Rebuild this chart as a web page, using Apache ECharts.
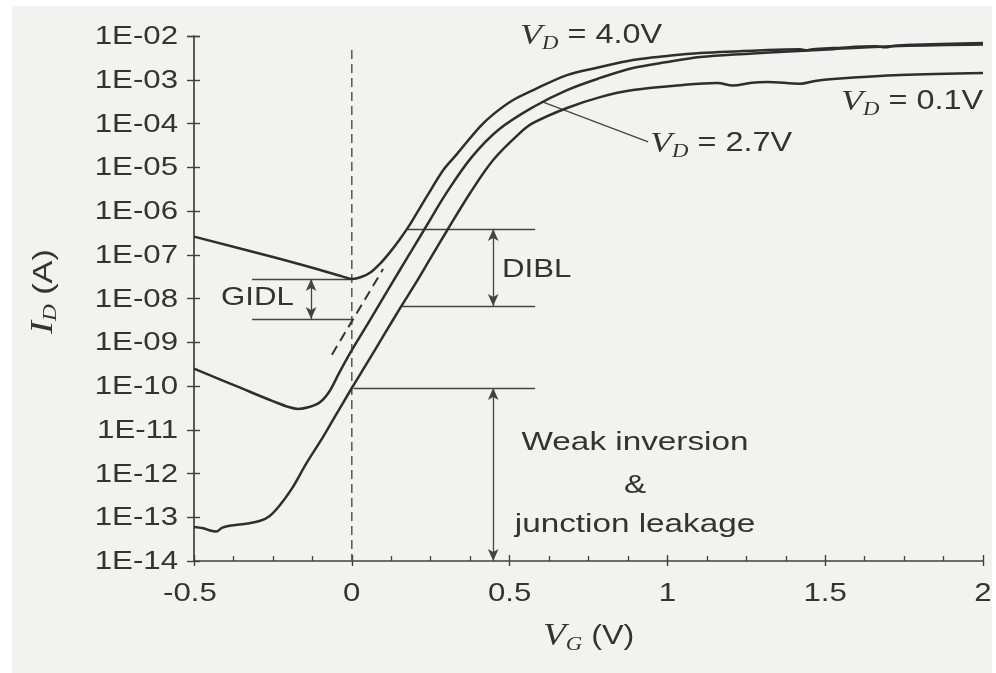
<!DOCTYPE html>
<html>
<head>
<meta charset="utf-8">
<script src="https://cdn.jsdelivr.net/npm/echarts@6/dist/echarts.min.js"></script>
<style>
html,body{margin:0;padding:0;background:#ffffff;}
#chart{width:996px;height:673px;}
</style>
</head>
<body>
<div id="chart"></div>
<script>
// ---------------- data ----------------
const yTickValues = [1e-14, 1e-13, 1e-12, 1e-11, 1e-10, 1e-9, 1e-8, 1e-7, 1e-6, 1e-5, 1e-4, 1e-3, 1e-2];
const yTickLabels = ['1E-14','1E-13','1E-12','1E-11','1E-10','1E-09','1E-08','1E-07','1E-06','1E-05','1E-04','1E-03','1E-02'];
const xTickValues = [-0.5, 0, 0.5, 1, 1.5, 2];
const xTickLabels = ['-0.5','0','0.5','1','1.5','2'];

// V_D = 4.0 V
const vg40 = [-0.5, -0.25, -0.1, -0.03, 0.0, 0.03, 0.06, 0.09, 0.12, 0.15, 0.185, 0.215, 0.25, 0.29, 0.333, 0.405, 0.45, 0.51, 0.575, 0.682, 0.787, 0.891, 1.0, 1.104, 1.316, 1.42, 1.44, 1.46, 1.525, 1.66, 1.69, 1.72, 1.78, 2.0];
const id40 = [2.6e-7, 8.9e-8, 4.5e-8, 3.2e-8, 2.8e-8, 3.1e-8, 4.0e-8, 6.3e-8, 1.12e-7, 2.14e-7, 5.0e-7, 1.15e-6, 3.0e-6, 8.7e-6, 2.0e-5, 8.3e-5, 1.66e-4, 3.4e-4, 5.8e-4, 1.28e-3, 1.95e-3, 2.83e-3, 3.5e-3, 4.08e-3, 4.79e-3, 5.0e-3, 4.7e-3, 5.0e-3, 5.3e-3, 5.8e-3, 5.5e-3, 6.0e-3, 6.3e-3, 6.9e-3];

// V_D = 2.7 V
const vg27 = [-0.5, -0.35, -0.25, -0.2, -0.17, -0.135, -0.1, -0.07, -0.04, 0.0, 0.05, 0.1, 0.15, 0.2, 0.25, 0.30, 0.38, 0.465, 0.575, 0.682, 0.787, 0.891, 1.0, 1.104, 1.246, 1.40, 1.525, 1.738, 2.0];
const id27 = [2.5e-10, 8.9e-11, 4.5e-11, 3.3e-11, 3.0e-11, 3.3e-11, 4.3e-11, 7.7e-11, 2.0e-10, 6.6e-10, 2.6e-9, 1.05e-8, 4.2e-8, 1.66e-7, 6.6e-7, 2.6e-6, 1.7e-5, 7.2e-5, 2.38e-4, 5.8e-4, 1.1e-3, 1.86e-3, 2.55e-3, 3.3e-3, 3.9e-3, 4.5e-3, 5.0e-3, 5.9e-3, 6.4e-3];

// V_D = 0.1 V
const vg01 = [-0.5, -0.47, -0.45, -0.43, -0.41, -0.38, -0.33, -0.29, -0.26, -0.23, -0.19, -0.144, -0.1, -0.06, 0.0, 0.05, 0.1, 0.156, 0.2, 0.25, 0.3, 0.375, 0.448, 0.533, 0.575, 0.682, 0.787, 0.891, 1.05, 1.158, 1.208, 1.262, 1.316, 1.421, 1.468, 1.525, 1.738, 2.0];
const id01 = [6.0e-14, 5.6e-14, 5.0e-14, 4.7e-14, 5.8e-14, 6.5e-14, 7.2e-14, 8.3e-14, 1.07e-13, 1.8e-13, 4.5e-13, 1.7e-12, 5.4e-12, 1.66e-11, 9.0e-11, 3.5e-10, 1.4e-9, 6.5e-9, 2.1e-8, 8.5e-8, 3.4e-7, 2.58e-6, 1.47e-5, 6.1e-5, 1.03e-4, 2.26e-4, 4.0e-4, 5.8e-4, 7.6e-4, 8.4e-4, 7.4e-4, 8.4e-4, 8.9e-4, 8.1e-4, 9.4e-4, 1.04e-3, 1.28e-3, 1.43e-3];

// dashed extrapolation of the V_D = 4.0 V subthreshold line
const vgExtrap = [-0.063, 0.099];
const idExtrap = [5.2e-10, 4.7e-8];

// vertical dashed reference at V_G = 0
const vgZero = [0, 0];
const idZero = [4.8e-3, 1e-14];

// annotation levels
const gidlLevels = [2.8e-8, 3.4e-9];
const gidlSpan = [-0.316, 0.0];
const gidlArrowV = -0.129;
const diblLevels = [3.9e-7, 6.7e-9];
const diblStart = [0.176, 0.159];
const annotEnd = 0.581;
const arrowV = 0.448;
const weakLevels = [9.0e-11, 1e-14];
const weakStart = 0.006;
const leader27 = [[0.600, 3.2e-4], [0.939, 3.8e-5]];

// ---------------- chart ----------------
const ink = '#333333';
const axisC = '#404040';
const SANS = "'Liberation Sans', Arial, Helvetica, sans-serif";
const SERIF = "'Liberation Serif', 'Times New Roman', serif";
const STRETCH = 1.2;

const pts = (xs, ys) => xs.map((x, i) => [x, ys[i]]);

const curve = (name, xs, ys) => ({
  type: 'line', name, data: pts(xs, ys), xAxisIndex: 0, yAxisIndex: 0,
  showSymbol: false, symbol: 'none', smooth: 0.35,
  lineStyle: { color: '#2e2e2e', width: 2.5 }, z: 5, silent: true, animation: false
});

const thin = { color: '#444444', width: 1.3, type: 'solid' };
const seg = (a, b, style, arrows) => [
  { coord: a, lineStyle: style, symbol: arrows ? 'arrow' : 'none' },
  { coord: b, symbol: arrows ? 'arrow' : 'none' }
];

const markLines = [
  seg([gidlSpan[0], gidlLevels[0]], [gidlSpan[1], gidlLevels[0]], thin),
  seg([gidlSpan[0], gidlLevels[1]], [gidlSpan[1], gidlLevels[1]], thin),
  seg([gidlArrowV, gidlLevels[0]], [gidlArrowV, gidlLevels[1]], thin, true),
  seg([diblStart[0], diblLevels[0]], [annotEnd, diblLevels[0]], thin),
  seg([diblStart[1], diblLevels[1]], [annotEnd, diblLevels[1]], thin),
  seg([arrowV, diblLevels[0]], [arrowV, diblLevels[1]], thin, true),
  seg([weakStart, weakLevels[0]], [annotEnd, weakLevels[0]], thin),
  seg([arrowV, weakLevels[0]], [arrowV, weakLevels[1]], thin, true),
  seg(leader27[0], leader27[1], thin)
];

const gridRect = { left: 194, right: 13, top: 36, bottom: 112 };

function vdLabel(x, y, value) {
  return {
    type: 'text', x: x, y: y, scaleX: STRETCH, z: 20,
    style: {
      text: '{v|V}{s|D}{n| = ' + value + '}',
      align: 'left', textAlign: 'left', verticalAlign: 'middle', textVerticalAlign: 'middle',
      rich: {
        v: { fontFamily: SERIF, fontStyle: 'italic', fontSize: 30, fill: ink, lineHeight: 34 },
        s: { fontFamily: SERIF, fontStyle: 'italic', fontSize: 19, fill: ink, lineHeight: 12, verticalAlign: 'bottom' },
        n: { fontFamily: SANS, fontSize: 27, fill: ink, lineHeight: 34 }
      }
    }
  };
}
function plain(x, y, text, size, align, sx) {
  return {
    type: 'text', x: x, y: y, scaleX: sx || STRETCH, z: 20,
    style: {
      text: text, fontFamily: SANS, fontSize: size, fill: ink,
      align: align || 'left', textAlign: align || 'left', verticalAlign: 'middle', textVerticalAlign: 'middle'
    }
  };
}

const baseGraphic = [
  { type: 'rect', z: -10, silent: true, shape: { x: 12, y: 6, width: 980, height: 667 }, style: { fill: '#f2f2f0' } },
  vdLabel(520, 36, '4.0V'),
  vdLabel(650, 144, '2.7V'),
  vdLabel(841, 102, '0.1V'),
  plain(502, 270, 'DIBL', 26),
  plain(221, 298, 'GIDL', 26),
  plain(635, 443, 'Weak inversion', 26, 'center', 1.28),
  plain(635, 486, '&', 26, 'center', 1.28),
  plain(635, 525, 'junction leakage', 26, 'center', 1.28),
  {
    type: 'text', x: 543, y: 637, scaleX: STRETCH, z: 20,
    style: {
      text: '{v|V}{s|G}{n| (V)}',
      align: 'left', textAlign: 'left', verticalAlign: 'middle', textVerticalAlign: 'middle',
      rich: {
        v: { fontFamily: SERIF, fontStyle: 'italic', fontSize: 31, fill: ink, lineHeight: 34 },
        s: { fontFamily: SERIF, fontStyle: 'italic', fontSize: 19, fill: ink, lineHeight: 12, verticalAlign: 'bottom' },
        n: { fontFamily: SANS, fontSize: 27, fill: ink, lineHeight: 34 }
      }
    }
  },
  {
    type: 'text', x: 44, y: 334, rotation: Math.PI / 2, scaleX: 1.22, z: 20,
    style: {
      text: '{v|I}{s|D}{n| (A)}',
      align: 'left', textAlign: 'left', verticalAlign: 'middle', textVerticalAlign: 'middle',
      rich: {
        v: { fontFamily: SERIF, fontStyle: 'italic', fontSize: 32, fill: ink, lineHeight: 32 },
        s: { fontFamily: SERIF, fontStyle: 'italic', fontSize: 19, fill: ink, lineHeight: 10, verticalAlign: 'bottom' },
        n: { fontFamily: SANS, fontSize: 28, fill: ink, lineHeight: 32 }
      }
    }
  }
];

const option = {
  backgroundColor: '#ffffff',
  animation: false,
  grid: [
    Object.assign({ containLabel: false }, gridRect),
    Object.assign({ containLabel: false }, gridRect)
  ],
  xAxis: [
    {
      type: 'value', gridIndex: 0, min: -0.5, max: 2, interval: 0.5,
      axisLine: { show: true, onZero: false, lineStyle: { color: axisC, width: 1.7 } },
      axisTick: { show: true, length: 5, lineStyle: { color: axisC, width: 1.4 } },
      axisLabel: { show: false },
      splitLine: { show: false }
    },
    {
      type: 'value', gridIndex: 1, min: -0.5, max: 2, interval: 0.5, position: 'bottom',
      axisLine: { show: true, onZero: false, lineStyle: { color: 'rgba(0,0,0,0)' } },
      axisTick: { show: true, inside: true, length: 6, lineStyle: { color: axisC, width: 1.4 } },
      minorTick: { show: true, splitNumber: 4, length: 5, lineStyle: { color: axisC, width: 1.3 } },
      axisLabel: { show: false }, splitLine: { show: false }, minorSplitLine: { show: false }
    }
  ],
  yAxis: [
    {
      type: 'log', gridIndex: 0, logBase: 10, min: 1e-14, max: 1e-2, interval: 1,
      axisLine: { show: true, onZero: false, lineStyle: { color: axisC, width: 1.7 } },
      axisTick: { show: true, length: 7, lineStyle: { color: axisC, width: 1.4 } },
      axisLabel: { show: false },
      splitLine: { show: false }
    },
    {
      type: 'log', gridIndex: 1, logBase: 10, min: 1e-14, max: 1e-2, interval: 1, position: 'left',
      axisLine: { show: true, onZero: false, lineStyle: { color: 'rgba(0,0,0,0)' } },
      axisTick: { show: true, inside: true, length: 6, lineStyle: { color: axisC, width: 1.4 } },
      axisLabel: { show: false }, splitLine: { show: false }
    }
  ],
  graphic: baseGraphic,
  series: [
    curve('V_D = 4.0V', vg40, id40),
    curve('V_D = 2.7V', vg27, id27),
    curve('V_D = 0.1V', vg01, id01),
    {
      type: 'line', name: 'extrapolation', data: pts(vgExtrap, idExtrap), xAxisIndex: 0, yAxisIndex: 0,
      showSymbol: false, symbol: 'none', silent: true,
      lineStyle: { color: '#333333', width: 2, type: [10, 6] }, z: 4
    },
    {
      type: 'line', name: 'VG=0', data: pts(vgZero, idZero), xAxisIndex: 0, yAxisIndex: 0,
      showSymbol: false, symbol: 'none', silent: true,
      lineStyle: { color: '#555555', width: 1.5, type: [9, 5] }, z: 3,
      markLine: {
        silent: true, animation: false, symbol: ['none', 'none'], symbolSize: [8, 12],
        label: { show: false }, emphasis: { disabled: true },
        lineStyle: thin,
        data: markLines
      }
    },
    {
      type: 'line', name: 'overlay', data: [[1, 1e-5]], xAxisIndex: 1, yAxisIndex: 1, silent: true,
      showSymbol: false, symbol: 'none', lineStyle: { opacity: 0 }
    }
  ]
};

const chart = echarts.init(document.getElementById('chart'), null, { renderer: 'canvas' });
chart.setOption(option);

// Tick labels, placed through the chart's own axis scales (stretched like the scanned original)
const finder = { xAxisIndex: 0, yAxisIndex: 0 };
const tickTexts = [];
yTickValues.forEach((v, i) => {
  const p = chart.convertToPixel(finder, [-0.5, v]);
  tickTexts.push({
    type: 'text', x: p[0] - 16, y: p[1] + 1, scaleX: STRETCH, z: 20, silent: true,
    style: { text: yTickLabels[i], fontFamily: SANS, fontSize: 26, fill: ink,
      align: 'right', textAlign: 'right', verticalAlign: 'middle', textVerticalAlign: 'middle' }
  });
});
xTickValues.forEach((v, i) => {
  const p = chart.convertToPixel(finder, [v, 1e-14]);
  tickTexts.push({
    type: 'text', x: p[0] - (xTickLabels[i].charAt(0) === '-' ? 4 : 0), y: p[1] + 33, scaleX: STRETCH, z: 20, silent: true,
    style: { text: xTickLabels[i], fontFamily: SANS, fontSize: 26, fill: ink,
      align: 'center', textAlign: 'center', verticalAlign: 'middle', textVerticalAlign: 'middle' }
  });
});
chart.setOption({ graphic: baseGraphic.concat(tickTexts) });
</script>
</body>
</html>
